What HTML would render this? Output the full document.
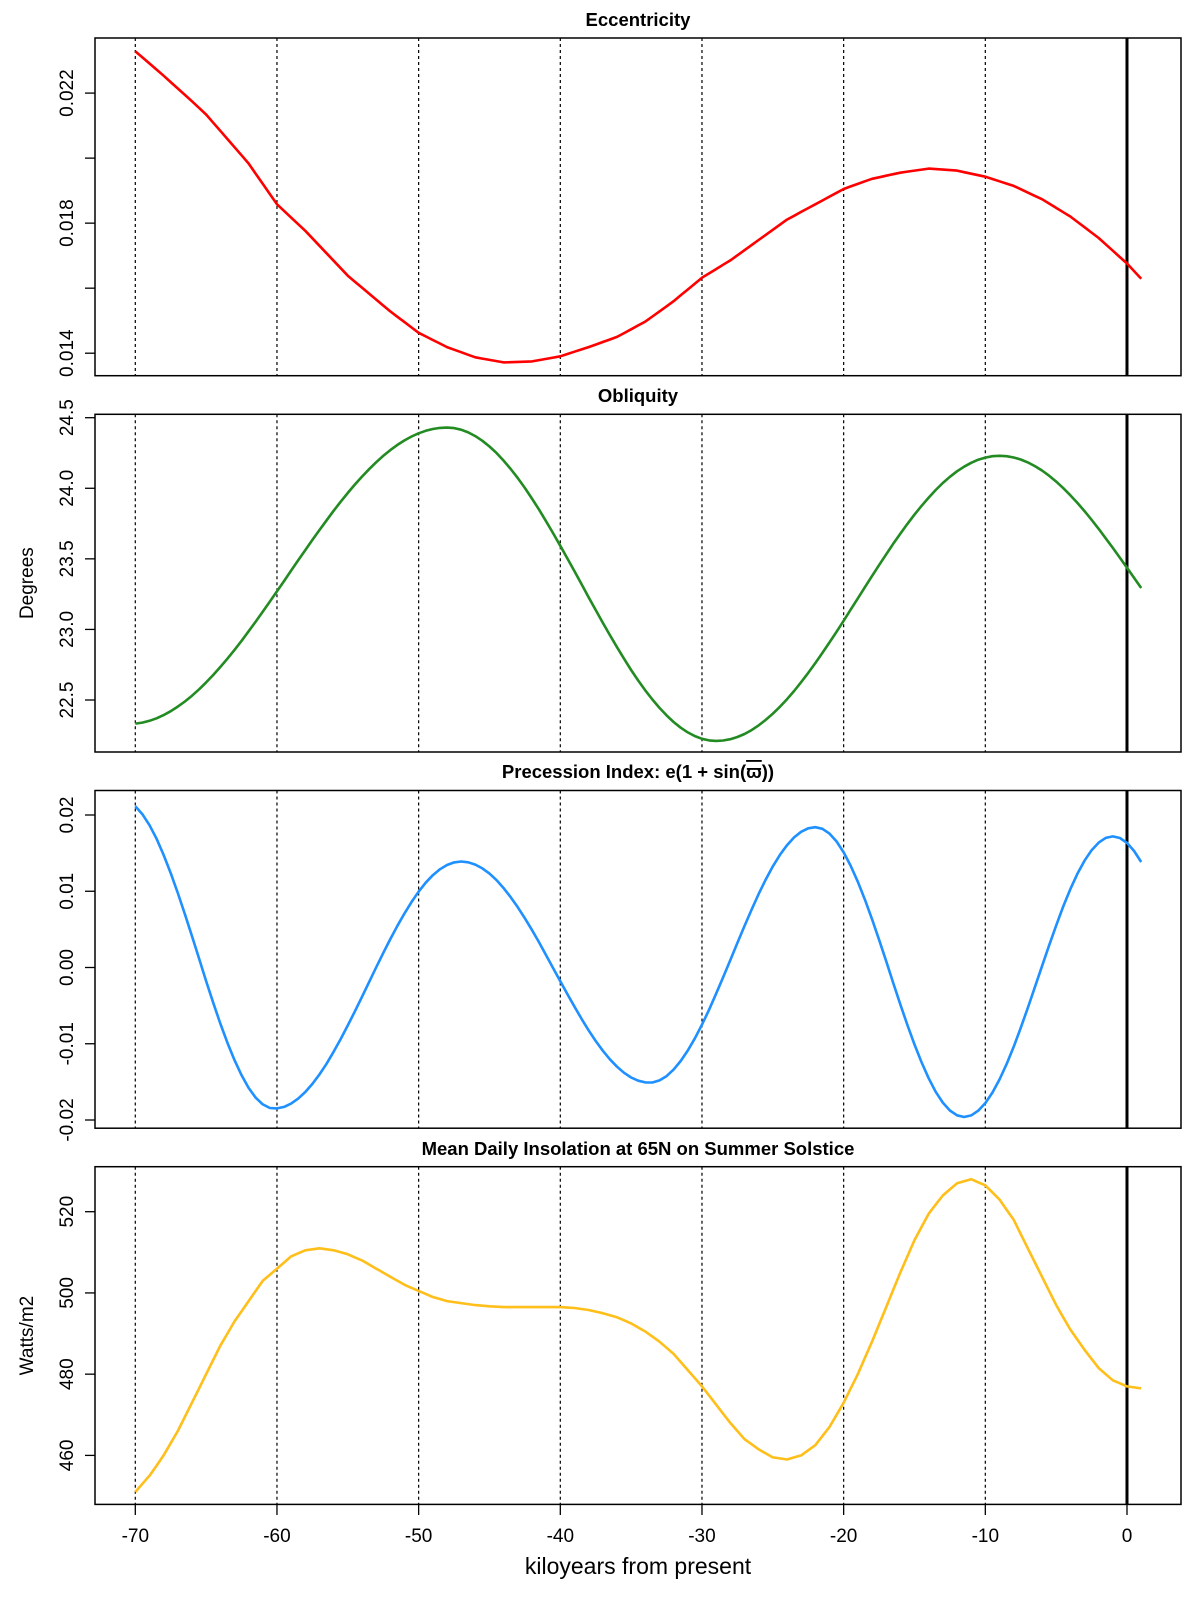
<!DOCTYPE html>
<html><head><meta charset="utf-8"><style>
html,body{margin:0;padding:0;background:#fff;}
svg{display:block;font-family:"Liberation Sans",Arial,sans-serif;}
</style></head><body>
<svg id="s" width="1200" height="1600" viewBox="0 0 1200 1600" xmlns="http://www.w3.org/2000/svg"></svg>
<script>
const S=document.getElementById('s');let h='';
const L=95,R=1181,H=337.7,tops=[38,414.3,790.5,1166.7];
const X=k=>135.3+(k+70)*14.167;
function D(ydisp,p){const td=[37,406,775,1144][p];return tops[p]+(ydisp-td)*1.0202;}
function lin(pts,k){for(let i=0;i<pts.length-1;i++){if(k>=pts[i][0]&&k<=pts[i+1][0]){const t=(k-pts[i][0])/(pts[i+1][0]-pts[i][0]);return pts[i][1]+t*(pts[i+1][1]-pts[i][1]);}}return pts[pts.length-1][1];}
function cosi(ex,k){for(let i=0;i<ex.length-1;i++){const a=ex[i],b=ex[i+1];if(k>=a[0]&&k<=b[0]){const t=(k-a[0])/(b[0]-a[0]);return a[1]+(b[1]-a[1])*(1-Math.cos(Math.PI*t))/2;}}return ex[ex.length-1][1];}
function poly(f,col){let p=[];for(let k=-70;k<=1.001;k+=0.5)p.push(X(k).toFixed(1)+','+f(k).toFixed(1));h+=`<polyline points="${p.join(' ')}" fill="none" stroke="${col}" stroke-width="2.6" stroke-linejoin="round"/>`;}
for(let p=0;p<4;p++){const t=tops[p],b=t+H;
 for(let k=-70;k<=-10;k+=10)h+=`<line x1="${X(k)}" y1="${t}" x2="${X(k)}" y2="${b}" stroke="#000" stroke-width="1.2" stroke-dasharray="3,3"/>`;
 h+=`<line x1="${X(0)}" y1="${t}" x2="${X(0)}" y2="${b}" stroke="#000" stroke-width="3"/>`;
}
const ecc=[[-70,50],[-68,74],[-66,99],[-65,112],[-62,160],[-60,200],[-58,226],[-55,270],[-52,305],[-50,326],[-48,340],[-46,350],[-44,355],[-42,354],[-40,349],[-38,340],[-36,330],[-34,315],[-32,295],[-30,272],[-28,255],[-26,235],[-24,215],[-22,200],[-20,185],[-18,175],[-16,169],[-14,165],[-12,167],[-10,173],[-8,182],[-6,195],[-4,212],[-2,233],[0,258],[1,273]];
poly(k=>D(lin(ecc,k),0),'#ff0000');
const y2=v=>417.7+(24.5-v)*(700-417.7)/2;
const ob=[[-70.5,22.33],[-48,24.43],[-29,22.21],[-9,24.23],[10,22.5]];
poly(k=>y2(cosi(ob,k)),'#228b22');
const y3=v=>815+(0.02-v)*(1120-815)/0.04;
const pr=[[-71,0.022],[-60.2,-0.0185],[-47,0.0139],[-33.7,-0.0151],[-22,0.0184],[-11.5,-0.0196],[-1,0.0172],[9,-0.018]];
poly(k=>y3(cosi(pr,k)),'#1e90ff');
const ins=[451,455,460,466,473,480,487,493,498,503,506,509,510.5,511,510.5,509.5,508,506,504,502,500.5,499,498,497.5,497,496.7,496.5,496.5,496.5,496.5,496.5,496.3,495.8,495,494,492.5,490.5,488,485,481,477,472.5,468,464,461.5,459.5,459,460,462.5,467,473,480,488,496.5,505,513,519.5,524,527,528,526.5,523,518,511,504,497,491,486,481.5,478.5,477,476.5];
const insP=ins.map((v,i)=>[i-70,v]);
const y4=v=>1211.7+(520-v)*(1455.4-1211.7)/60;
poly(k=>y4(lin(insP,k)),'#ffbf1a');
for(let p=0;p<4;p++)h+=`<rect x="${L}" y="${tops[p]}" width="${R-L}" height="${H}" fill="none" stroke="#000" stroke-width="1.5"/>`;
function yt(y,lab){h+=`<line x1="85" y1="${y}" x2="${L}" y2="${y}" stroke="#000" stroke-width="1.3"/>`;if(lab!==null)h+=`<text transform="translate(73,${y}) rotate(-90)" text-anchor="middle" font-size="19">${lab}</text>`;}
const y1=v=>93.1+(0.022-v)*(353.2-93.1)/0.008;
yt(y1(0.014),'0.014');yt(y1(0.016),null);yt(y1(0.018),'0.018');yt(y1(0.020),null);yt(y1(0.022),'0.022');
['22.5','23.0','23.5','24.0','24.5'].forEach(v=>yt(y2(+v),v));
[['-0.02',-0.02],['-0.01',-0.01],['0.00',0],['0.01',0.01],['0.02',0.02]].forEach(a=>yt(y3(a[1]),a[0]));
[460,480,500,520].forEach(v=>yt(y4(v),v));
for(let k=-70;k<=0;k+=10){h+=`<line x1="${X(k)}" y1="1505" x2="${X(k)}" y2="1515" stroke="#000" stroke-width="1.3"/><text x="${X(k)}" y="1542" text-anchor="middle" font-size="19">${k}</text>`;}
h+=`<text x="638" y="1574" text-anchor="middle" font-size="23">kiloyears from present</text>`;
h+=`<text transform="translate(33,${tops[1]+H/2}) rotate(-90)" text-anchor="middle" font-size="19">Degrees</text>`;
h+=`<text transform="translate(33,${tops[3]+H/2}) rotate(-90)" text-anchor="middle" font-size="19">Watts/m2</text>`;
const tb=[26,402,778,1155];
h+=`<text x="638" y="${tb[0]}" text-anchor="middle" font-size="18.5" font-weight="bold">Eccentricity</text>`;
h+=`<text x="638" y="${tb[1]}" text-anchor="middle" font-size="18.5" font-weight="bold">Obliquity</text>`;
h+=`<text x="638" y="${tb[2]}" text-anchor="middle" font-size="18.5" font-weight="bold">Precession Index:   e(1 + sin(<tspan style="text-decoration:overline">ϖ</tspan>))</text>`;
h+=`<text x="638" y="${tb[3]}" text-anchor="middle" font-size="18.5" font-weight="bold">Mean Daily Insolation at 65N on Summer Solstice</text>`;
S.innerHTML=h;
</script>
</body></html>
